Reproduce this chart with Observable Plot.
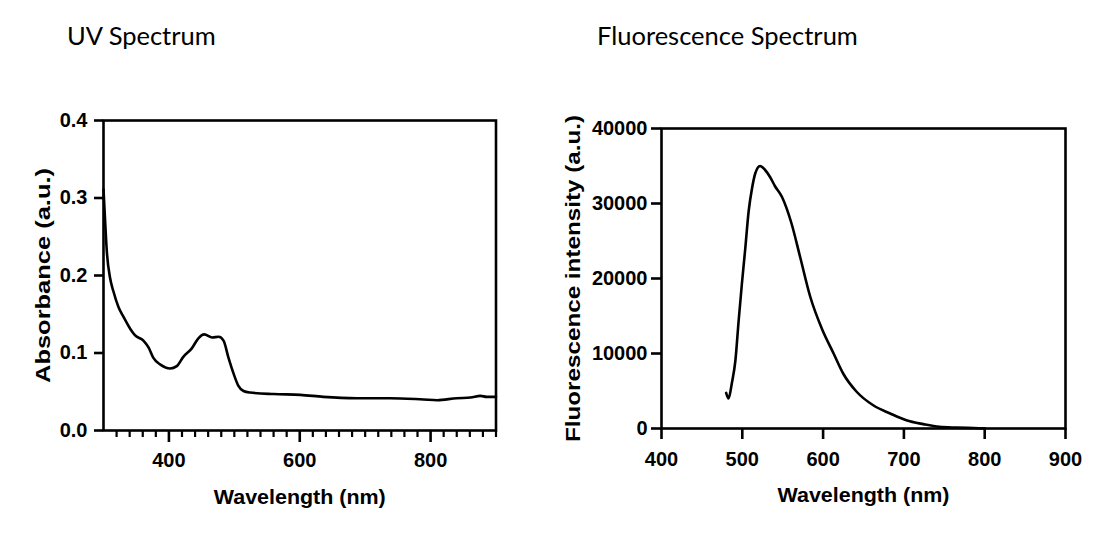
<!DOCTYPE html>
<html>
<head>
<meta charset="utf-8">
<script src="https://cdn.jsdelivr.net/npm/d3@7"></script>
<script src="https://cdn.jsdelivr.net/npm/@observablehq/plot@0.6"></script>
<style>
  html, body { margin: 0; padding: 0; background: #fff; }
  #root { position: relative; width: 1118px; height: 545px; overflow: hidden; background: #fff; }
  .title { position: absolute; font-family: Lato, "Open Sans", sans-serif; font-size: 25.5px; line-height: 1; color: #000; white-space: nowrap; }
  .chart { position: absolute; top: 60px; }
</style>
</head>
<body>
<div id="root">
  <div class="title" style="left:67px; top:23px;">UV Spectrum</div>
  <div class="title" style="left:597px; top:23px;">Fluorescence Spectrum</div>
  <div class="chart" id="uv" style="left:0px;"></div>
  <div class="chart" id="fl" style="left:560px;"></div>
</div>
<script>
// ---- UV spectrum data ----
const uvWavelength = [300, 302.5, 305, 310, 315, 323, 331, 341, 348, 361, 369, 376, 387, 402, 412, 422, 435, 445, 454, 466, 476, 483.5, 491, 499, 506, 514, 524, 560, 601, 636, 687, 738, 789, 810, 840, 861, 876, 886, 900];
const uvAbsorbance = [0.311, 0.270, 0.232, 0.197, 0.180, 0.159, 0.146, 0.131, 0.123, 0.116, 0.107, 0.094, 0.085, 0.080, 0.083, 0.095, 0.106, 0.119, 0.124, 0.120, 0.121, 0.116, 0.094, 0.073, 0.058, 0.051, 0.049, 0.047, 0.046, 0.0434, 0.0417, 0.0417, 0.040, 0.0391, 0.0417, 0.0425, 0.0447, 0.0434, 0.0434];
const uvYTicks = [0, 0.1, 0.2, 0.3, 0.4];
const uvMajorTicks = [400, 600, 800];
const uvMinorTicks = [320, 340, 360, 380, 420, 440, 460, 480, 500, 520, 540, 560, 580, 620, 640, 660, 680, 700, 720, 740, 760, 780, 820, 840, 860, 880, 900];
const uvXLabel = "Wavelength (nm)";
const uvYLabel = "Absorbance (a.u.)";

// ---- Fluorescence spectrum data ----
const flWavelength = [480, 483, 487, 491.5, 495.5, 499.5, 503.5, 508, 512, 516, 522, 528, 534.5, 540.5, 549, 561, 571.5, 584, 598.5, 613, 625, 641.5, 662, 683, 703, 724, 744, 765, 786, 800];
const flIntensity = [4750, 4000, 6000, 9100, 14400, 19300, 23800, 29100, 32000, 34000, 35000, 34500, 33500, 32300, 30900, 27300, 22900, 17600, 13300, 10000, 7300, 4900, 3100, 2000, 1100, 580, 220, 120, 60, 20];
const flYTicks = [0, 10000, 20000, 30000, 40000];
const flXTicks = [400, 500, 600, 700, 800, 900];
const flXLabel = "Wavelength (nm)";
const flYLabel = "Fluorescence intensity (a.u.)";

const uvData = uvWavelength.map((w, i) => ({w, a: uvAbsorbance[i]}));
const flData = flWavelength.map((w, i) => ({w, v: flIntensity[i]}));

const baseStyle = {
  fontFamily: '"Liberation Sans", Arial, sans-serif',
  fontWeight: "bold",
  fontSize: "20px",
  color: "#000",
  background: "#fff",
  overflow: "visible"
};
const SW = 2.6;

function fixLabels(svg, xText, yText, xLen, yLen, xSize, ySize) {
  const s = d3.select(svg);
  s.selectAll('g[aria-label="x-axis label"] text')
    .text(xText)
    .attr("font-size", xSize).attr("font-weight", "bold")
    .attr("textLength", xLen).attr("lengthAdjust", "spacingAndGlyphs");
  s.selectAll('g[aria-label="y-axis label"] text')
    .text(yText)
    .attr("font-size", ySize).attr("font-weight", "bold")
    .attr("textLength", yLen).attr("lengthAdjust", "spacingAndGlyphs");
}

const uv = Plot.plot({
  width: 550, height: 480,
  marginLeft: 103, marginRight: 54.5, marginTop: 60, marginBottom: 110,
  style: baseStyle,
  x: {domain: [300, 900]},
  y: {domain: [0, 0.4]},
  marks: [
    Plot.axisY({ticks: uvYTicks, tickSize: 9, tickPadding: 7, tickFormat: d3.format(".1f"), strokeWidth: SW,
      label: uvYLabel, labelArrow: "none", labelAnchor: "center", labelOffset: 68, fontSize: 20}),
    Plot.axisX({ticks: uvMinorTicks, tickSize: 7, tickFormat: () => "", strokeWidth: 2.2, label: null}),
    Plot.axisX({ticks: uvMajorTicks, tickSize: 12, tickPadding: 10, strokeWidth: SW, tickFormat: d3.format("d"),
      label: uvXLabel, labelArrow: "none", labelAnchor: "center", labelOffset: 73, fontSize: 20}),
    Plot.frame({stroke: "#000", strokeWidth: SW}),
    Plot.lineY(uvData, {x: "w", y: "a", stroke: "#000", strokeWidth: SW, curve: "monotone-x"})
  ]
});
fixLabels(uv, uvXLabel, uvYLabel, 172, 215, 21, 20);
document.getElementById("uv").appendChild(uv);

const fl = Plot.plot({
  width: 558, height: 480,
  marginLeft: 101, marginRight: 53, marginTop: 68, marginBottom: 112,
  style: baseStyle,
  x: {domain: [400, 900]},
  y: {domain: [0, 40000]},
  marks: [
    Plot.axisY({ticks: flYTicks, tickSize: 10, tickPadding: 4, tickFormat: d3.format("d"), strokeWidth: SW,
      label: flYLabel, labelArrow: "none", labelAnchor: "center", labelOffset: 96, fontSize: 20}),
    Plot.axisX({ticks: flXTicks, tickSize: 11, tickPadding: 12, strokeWidth: SW, tickFormat: d3.format("d"),
      label: flXLabel, labelArrow: "none", labelAnchor: "center", labelOffset: 73, fontSize: 20}),
    Plot.frame({stroke: "#000", strokeWidth: SW}),
    Plot.lineY(flData, {x: "w", y: "v", stroke: "#000", strokeWidth: SW, curve: "monotone-x"})
  ]
});
fixLabels(fl, flXLabel, flYLabel, 172, 327, 21, 20);
document.getElementById("fl").appendChild(fl);
</script>
</body>
</html>
